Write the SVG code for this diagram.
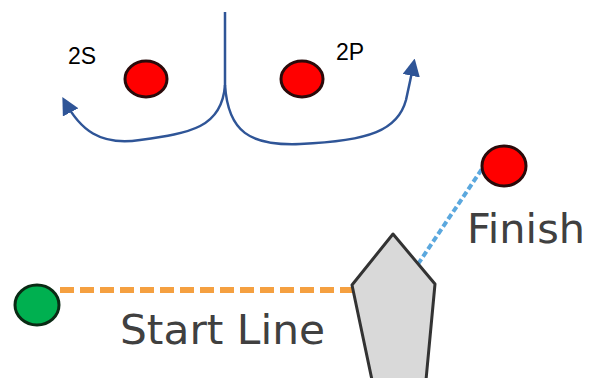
<svg xmlns="http://www.w3.org/2000/svg" width="590" height="378" viewBox="0 0 590 378">
<style>
.mark{fill:#FF0000;stroke:#2a0a0a;stroke-width:3}
.flow{fill:none;stroke:#2F5597;stroke-width:2.5}
.lbl{font-family:"Liberation Sans",Arial,sans-serif;font-size:23px;fill:#000}
.big{font-family:"DejaVu Sans",sans-serif;font-size:40px;fill:#404040}
</style>
<defs>
<marker id="ah" viewBox="0 0 10 10" refX="8" refY="5" markerWidth="7" markerHeight="7" orient="auto" markerUnits="strokeWidth">
<path d="M0,0 L10,5 L0,10 z" fill="#2F5597"/>
</marker>
</defs>
<rect width="590" height="378" fill="#fff"/>
<g id="connectors">
<path class="flow" d="M225,12 L225,85 C222,128 190,133 140,140 C100,146 80,130 64,100" marker-end="url(#ah)"/>
<path class="flow" d="M225,85 C228,132 250,146 300,144 C370,141 398,130 406,100 C410,82 412,72 414,62" marker-end="url(#ah)"/>
<line x1="60" y1="290" x2="354" y2="290" stroke="#F5A040" stroke-width="6" stroke-dasharray="14,6"/>
<line x1="418" y1="264" x2="484" y2="166" stroke="#5BA8DE" stroke-width="4" stroke-dasharray="6,3"/>
</g>
<g id="mark2S"><ellipse class="mark" cx="146" cy="79" rx="21" ry="18"/><text class="lbl" x="68" y="64">2S</text></g>
<g id="mark2P"><ellipse class="mark" cx="302" cy="79" rx="21" ry="18"/><text class="lbl" x="336" y="60">2P</text></g>
<g id="finish"><ellipse class="mark" cx="504" cy="166" rx="22" ry="20"/><text class="big" x="467" y="243" textLength="118" lengthAdjust="spacingAndGlyphs">Finish</text></g>
<g id="pin"><ellipse cx="37" cy="305" rx="22" ry="20" fill="#00B050" stroke="#0a2a14" stroke-width="3"/></g>
<g id="boat"><polygon points="393,234 435,284 426,380 372,380 352,285" fill="#D9D9D9" stroke="#333" stroke-width="3" stroke-linejoin="round"/></g>
<g id="startlabel"><text class="big" x="120" y="344" textLength="205" lengthAdjust="spacingAndGlyphs">Start Line</text></g>
</svg>
